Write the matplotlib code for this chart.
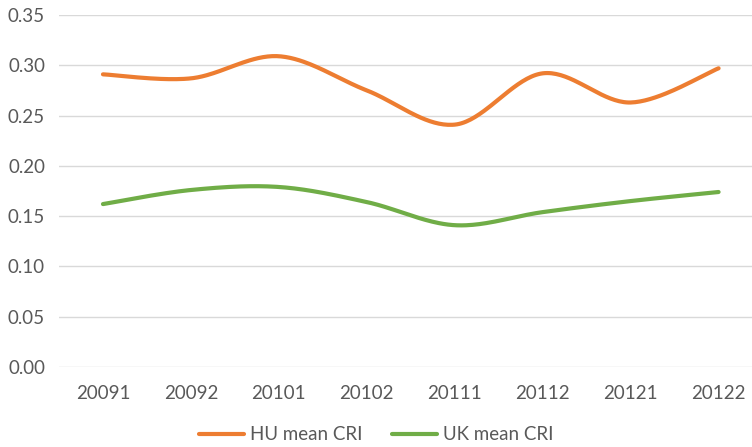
import matplotlib
matplotlib.use("Agg")
import matplotlib.pyplot as plt
import numpy as np

periods = ['20091', '20092', '20101', '20102', '20111', '20112', '20121', '20122']
hu_cri = [0.291, 0.287, 0.309, 0.275, 0.241, 0.292, 0.263, 0.297]
uk_cri = [0.162, 0.176, 0.179, 0.164, 0.141, 0.154, 0.165, 0.174]


def smooth(x, y, n=40):
    # Excel-like smoothed line (cardinal bezier through the points)
    p = np.column_stack([x, y]).astype(float)
    p = np.vstack([p[0], p, p[-1]])
    out = []
    t = np.linspace(0, 1, n)[:, None]
    for i in range(1, len(p) - 2):
        p0, p1, p2, p3 = p[i - 1], p[i], p[i + 1], p[i + 2]
        c1 = p1 + (p2 - p0) / 6
        c2 = p2 - (p3 - p1) / 6
        seg = ((1 - t) ** 3) * p1 + 3 * ((1 - t) ** 2) * t * c1 + 3 * (1 - t) * t ** 2 * c2 + t ** 3 * p2
        out.append(seg if i == 1 else seg[1:])
    out = np.vstack(out)
    return out[:, 0], out[:, 1]


plt.rcParams['font.family'] = ['Lato', 'DejaVu Sans']
grey = '#595959'

fig = plt.figure(figsize=(7.52, 4.47), dpi=100)
ax = fig.add_axes([59 / 752, 1 - 367 / 447, 1 - 59 / 752, (367 - 15) / 447])

x = np.arange(len(periods))
hx, hy = smooth(x, hu_cri)
ux, uy = smooth(x, uk_cri)
ax.plot(hx, hy, color='#ED7D31', lw=3.0, solid_capstyle='round', label='HU mean CRI')
ax.plot(ux, uy, color='#70AD47', lw=3.0, solid_capstyle='round', label='UK mean CRI')

ax.set_ylim(0, 0.35)
ax.set_yticks(np.arange(0, 0.36, 0.05))
ax.set_yticklabels([f'{v:.2f}' for v in np.arange(0, 0.36, 0.05)])
ax.set_xlim(-0.5, 7.38)
ax.set_xticks(x)
ax.set_xticklabels(periods)
ax.grid(axis='y', color='#D9D9D9', lw=1)
ax.set_axisbelow(True)
for s in ax.spines.values():
    s.set_visible(False)
ax.tick_params(length=0, labelsize=13.5, colors=grey, pad=13)
ax.tick_params(axis='y', pad=10)

fig.legend(loc='center', bbox_to_anchor=(376 / 752, 1 - 435 / 447), ncol=2, frameon=False,
           fontsize=13.5, labelcolor=grey, handlelength=2.4, handletextpad=0.3, columnspacing=1.6)

fig.savefig('out.png', dpi=100)
